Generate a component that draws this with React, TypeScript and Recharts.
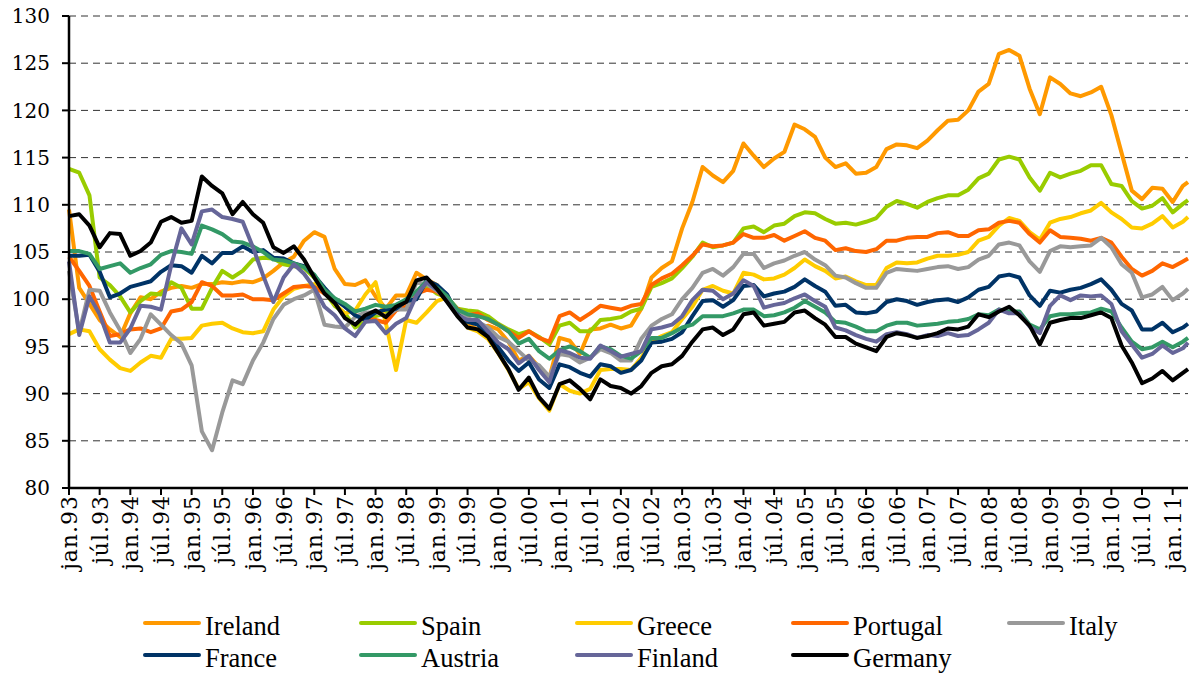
import { LineChart, Line, XAxis, YAxis, CartesianGrid } from 'recharts';

// monthly index: 0 = jan.93, read every second month, last point apr.11
const MONTHS = Array.from({ length: 110 }, (_, i) => i * 2).concat([219]);

const TICK_LABELS = [
  'jan.93', 'júl.93', 'jan.94', 'júl.94', 'jan.95', 'júl.95', 'jan.96', 'júl.96',
  'jan.97', 'júl.97', 'jan.98', 'júl.98', 'jan.99', 'júl.99', 'jan.00', 'júl.00',
  'jan.01', 'júl.01', 'jan.02', 'júl.02', 'jan.03', 'júl.03', 'jan.04', 'júl.04',
  'jan.05', 'júl.05', 'jan.06', 'júl.06', 'jan.07', 'júl.07', 'jan.08', 'júl.08',
  'jan.09', 'júl.09', 'jan.10', 'júl.10', 'jan.11',
];
const TICK_MONTHS = TICK_LABELS.map((_, i) => i * 6);
const Y_TICKS = [80, 85, 90, 95, 100, 105, 110, 115, 120, 125, 130];

const IRELAND = [
  109.5, 101.2, 99.5, 97.8, 96.8, 96.0, 98.5, 100.2, 100.0, 100.8, 101.2, 101.4, 101.2, 101.6, 101.6, 101.8, 101.7, 101.9, 101.8,
  102.2, 103.0, 103.9, 104.5, 106.2, 107.1, 106.6, 103.2, 101.6, 101.5, 102.0, 100.3, 99.0, 100.4, 100.4, 102.8, 102.1, 101.5, 100.0,
  98.5, 97.3, 96.8, 97.2, 96.8, 95.5, 93.5, 94.0, 92.8, 91.6, 95.9, 95.6, 94.2, 96.8, 96.9, 97.3, 96.9, 97.2,
  99.0, 102.3, 103.3, 104.0, 107.5, 110.3, 114.0, 113.1, 112.4, 113.6, 116.5, 115.2, 114.0, 114.9, 115.6, 118.5, 118.0, 117.2, 115.0,
  114.0, 114.4, 113.3, 113.4, 114.0, 115.9, 116.4, 116.3, 116.0, 116.8, 117.9, 118.9, 119.0, 120.0, 122.0, 122.8, 126.0, 126.4,
  125.8, 122.3, 119.6, 123.5, 122.8, 121.8, 121.5, 121.9, 122.5, 119.5, 115.5, 111.5, 110.6, 111.8, 111.7, 110.3, 112.0,
  112.4,
];

const SPAIN = [
  113.8, 113.4, 111.0, 102.3, 101.5, 100.3, 98.6, 99.8, 100.6, 100.5, 101.8, 101.2, 99.0, 99.0, 101.2, 103.0, 102.3, 103.0, 104.2,
  104.4, 104.3, 103.7, 103.5, 103.3, 102.3, 100.8, 99.3, 98.5, 97.0, 97.6, 98.2, 98.5, 98.9, 99.5, 100.5, 101.4, 100.6, 100.2,
  99.0, 98.8, 98.7, 98.2, 97.4, 96.8, 96.3, 96.6, 96.0, 95.2, 97.2, 97.5, 96.6, 96.6, 97.8, 97.9, 98.1, 98.7,
  99.0, 101.3, 101.7, 102.2, 103.3, 104.5, 106.0, 105.5, 105.7, 106.0, 107.5, 107.7, 107.1, 107.8, 108.0, 108.8, 109.2, 109.1, 108.5,
  108.0, 108.1, 107.9, 108.2, 108.6, 109.8, 110.4, 110.1, 109.7, 110.3, 110.7, 111.0, 111.0, 111.6, 112.8, 113.3, 114.8, 115.1,
  114.8, 112.9, 111.5, 113.4, 112.9, 113.3, 113.6, 114.2, 114.2, 112.2, 112.0, 110.4, 109.6, 109.9, 110.7, 109.2, 110.1,
  110.5,
];

const GREECE = [
  96.3, 96.8, 96.6, 94.7, 93.6, 92.7, 92.4, 93.3, 94.0, 93.8, 95.8, 95.8, 95.9, 97.2, 97.4, 97.5, 96.9, 96.5, 96.4,
  96.6, 98.9, 100.3, 101.1, 101.4, 101.6, 101.0, 99.5, 98.5, 98.8, 100.5, 101.8, 97.5, 92.5, 97.8, 97.5, 98.6, 99.8, 100.2,
  98.5, 97.0, 96.6, 95.8, 94.3, 92.5, 90.5, 91.2, 89.5, 88.2, 91.0, 90.3, 90.0, 90.5, 92.5, 92.6, 92.6, 92.5,
  93.8, 95.5, 96.1, 96.5, 97.9, 99.2, 101.0, 101.4, 100.9, 100.6, 102.8, 102.6, 102.1, 102.2, 102.6, 103.3, 104.2, 103.5, 103.0,
  102.2, 102.4, 101.9, 101.5, 101.5, 103.3, 103.9, 103.8, 103.9, 104.3, 104.6, 104.6, 104.7, 105.0, 106.2, 106.6, 107.8, 108.6,
  108.3, 107.1, 106.3, 108.1, 108.5, 108.7, 109.1, 109.4, 110.2, 109.2, 108.5, 107.6, 107.5, 108.0, 108.8, 107.6, 108.2,
  108.7,
];

const PORTUGAL = [
  104.5, 103.0, 101.4, 98.7, 96.1, 96.3, 96.8, 96.9, 96.5, 96.9, 98.7, 98.9, 99.7, 101.8, 101.4, 100.4, 100.4, 100.5, 100.0,
  100.0, 99.9, 100.6, 101.3, 101.4, 101.3, 100.6, 100.0, 99.3, 98.3, 98.0, 97.8, 97.5, 98.8, 99.3, 100.6, 101.0, 100.8, 100.0,
  99.0, 98.3, 98.5, 97.8, 97.3, 96.6, 95.9, 96.6, 95.9, 95.5, 98.2, 98.6, 97.8, 98.5, 99.3, 99.1, 98.9, 99.3,
  99.5, 101.5, 102.2, 102.7, 103.6, 104.6, 105.8, 105.6, 105.7, 106.0, 106.9, 106.5, 106.5, 106.8, 106.2, 106.7, 107.2, 106.5, 106.2,
  105.2, 105.4, 105.1, 105.0, 105.3, 106.2, 106.2, 106.5, 106.6, 106.6, 107.0, 107.1, 106.7, 106.7, 107.3, 107.4, 108.1, 108.3,
  108.1, 106.9, 106.0, 107.3, 106.6, 106.5, 106.4, 106.2, 106.5, 106.0, 104.5, 103.2, 102.5, 103.0, 103.8, 103.4, 104.0,
  104.3,
];

const ITALY = [
  103.0, 96.5, 101.0, 100.9, 98.6, 96.7, 94.3, 95.8, 98.4, 97.3, 96.2, 95.3, 93.0, 86.0, 84.0, 88.0, 91.4, 91.0, 93.5,
  95.4, 97.9, 99.4, 100.0, 100.4, 101.0, 97.3, 97.1, 97.0, 98.1, 98.6, 98.6, 98.2, 98.9, 98.9, 101.8, 101.6, 100.9, 100.1,
  98.8, 98.0, 97.6, 97.0, 96.0, 95.5, 94.5, 93.5, 93.0, 91.8, 94.2, 94.0, 93.3, 93.8, 94.7, 94.3, 93.5, 93.5,
  95.8, 97.2, 97.9, 98.4, 100.0, 101.2, 102.8, 103.2, 102.5, 103.4, 104.8, 104.8, 103.3, 103.8, 104.1, 104.6, 105.0, 104.2, 103.6,
  102.5, 102.3, 101.7, 101.2, 101.2, 102.8, 103.2, 103.1, 103.0, 103.2, 103.4, 103.5, 103.2, 103.4, 104.2, 104.6, 105.8, 106.0,
  105.7, 104.0, 102.9, 105.1, 105.6, 105.5, 105.6, 105.7, 106.5, 105.5, 103.7, 102.8, 100.2, 100.5, 101.3, 99.9, 100.6,
  101.1,
];

const FRANCE = [
  104.6, 104.6, 104.7, 102.9, 100.2, 100.6, 101.3, 101.6, 101.9, 102.9, 103.6, 103.5, 102.8, 104.6, 103.8, 104.9, 104.9, 105.6, 105.0,
  105.2, 104.4, 104.3, 103.8, 103.5, 102.5, 101.2, 100.0, 99.2, 98.3, 97.8, 98.6, 98.9, 99.0, 99.8, 100.0, 102.0, 101.5, 100.5,
  98.4, 97.6, 97.3, 96.2, 94.9, 93.5, 92.4, 93.3, 91.5, 90.6, 93.1, 92.8, 92.2, 91.8, 93.1, 92.9, 92.2, 92.5,
  93.5, 95.4, 95.5, 95.8, 96.5, 98.2, 99.8, 99.9, 99.2, 99.9, 101.4, 101.5, 100.3, 100.6, 100.8, 101.3, 102.1, 101.4, 100.8,
  99.3, 99.4, 98.6, 98.5, 98.7, 99.7, 100.0, 99.8, 99.4, 99.7, 99.9, 100.0, 99.7, 100.2, 101.0, 101.3, 102.4, 102.6,
  102.3, 100.4, 99.3, 100.9, 100.7, 101.0, 101.2, 101.6, 102.1, 101.0, 99.5, 98.8, 96.8, 96.8, 97.5, 96.5, 97.0,
  97.4,
];

const AUSTRIA = [
  105.1, 105.1, 104.8, 103.2, 103.5, 103.8, 102.8, 103.3, 103.7, 104.7, 105.1, 105.0, 104.8, 107.8, 107.4, 106.9, 106.1, 106.0, 105.6,
  105.0, 104.2, 104.1, 103.8, 103.4, 102.6, 101.0, 100.1, 99.5, 98.7, 99.0, 99.4, 99.2, 99.4, 100.0, 100.8, 101.9, 101.2, 100.3,
  98.9, 98.4, 98.2, 97.9, 97.3, 96.6, 95.3, 95.8, 94.5, 93.7, 94.6, 95.0, 94.5, 93.8, 95.0, 94.7, 94.0, 93.7,
  94.5, 95.9, 95.9, 96.4, 97.0, 97.3, 98.2, 98.2, 98.2, 98.5, 98.9, 98.9, 98.2, 98.3, 98.6, 99.1, 99.8, 99.2, 98.6,
  97.6, 97.5, 97.1, 96.6, 96.6, 97.2, 97.5, 97.5, 97.2, 97.3, 97.4, 97.6, 97.7, 97.9, 98.4, 98.3, 98.9, 98.7,
  98.7, 97.3, 96.8, 98.2, 98.4, 98.4, 98.5, 98.6, 99.0, 98.7, 97.0, 95.5, 94.7, 94.9, 95.5, 94.9, 95.5,
  95.9,
];

const FINLAND = [
  104.0, 96.2, 100.3, 98.4, 95.4, 95.4, 96.9, 99.3, 99.2, 98.9, 103.6, 107.5, 105.8, 109.3, 109.5, 108.7, 108.5, 108.2, 105.5,
  102.5, 99.7, 102.3, 103.7, 102.7, 101.2, 99.2, 98.3, 96.9, 96.1, 97.6, 97.7, 96.4, 97.4, 98.0, 100.4, 101.8, 101.0, 99.8,
  98.3, 97.8, 97.8, 96.6, 95.4, 94.7, 93.2, 94.0, 92.5, 91.2, 94.6, 94.3, 93.8, 93.7, 95.1, 94.5, 93.9, 94.2,
  94.5, 96.8, 97.0, 97.3, 98.2, 99.9, 101.0, 100.9, 100.0, 100.6, 102.0, 101.4, 99.1, 99.4, 99.6, 100.1, 100.5, 99.8, 99.2,
  97.0, 96.7, 96.2, 95.8, 95.5, 96.3, 96.5, 96.3, 95.9, 96.2, 96.1, 96.4, 96.1, 96.2, 96.8, 97.5, 98.9, 98.5,
  98.5, 97.1, 96.4, 99.3, 100.4, 99.9, 100.4, 100.3, 100.4, 99.5, 96.6, 95.2, 93.8, 94.2, 95.1, 94.3, 94.8,
  95.4,
];

const GERMANY = [
  108.8, 109.0, 107.8, 105.5, 107.0, 106.9, 104.6, 105.1, 106.0, 108.2, 108.7, 108.1, 108.3, 113.0, 112.0, 111.2, 109.0, 110.3, 109.0,
  108.1, 105.5, 104.9, 105.6, 104.2, 102.3, 100.6, 99.6, 98.0, 97.3, 98.3, 98.8, 98.1, 99.2, 99.7, 102.0, 102.3, 101.1, 99.7,
  98.2, 97.0, 96.8, 96.0, 94.3, 92.6, 90.4, 91.7, 89.6, 88.4, 91.0, 91.4, 90.5, 89.4, 91.5, 90.8, 90.6, 90.0,
  90.8, 92.2, 92.9, 93.1, 94.0, 95.5, 96.8, 97.0, 96.2, 96.8, 98.4, 98.6, 97.2, 97.4, 97.6, 98.6, 98.8, 98.0, 97.3,
  96.0, 96.0, 95.3, 94.9, 94.5, 96.0, 96.4, 96.2, 95.9, 96.1, 96.4, 96.9, 96.8, 97.1, 98.4, 98.1, 98.7, 99.2,
  98.3, 97.2, 95.2, 97.5, 97.8, 98.0, 98.0, 98.3, 98.6, 98.0, 95.1, 93.3, 91.1, 91.6, 92.4, 91.4, 92.2,
  92.6,
];

const SERIES = [
  { name: 'Ireland', values: IRELAND, color: '#FF9900' },
  { name: 'Spain', values: SPAIN, color: '#99CC00' },
  { name: 'Greece', values: GREECE, color: '#FFCC00' },
  { name: 'Portugal', values: PORTUGAL, color: '#FF6600' },
  { name: 'Italy', values: ITALY, color: '#999999' },
  { name: 'France', values: FRANCE, color: '#003366' },
  { name: 'Austria', values: AUSTRIA, color: '#339966' },
  { name: 'Finland', values: FINLAND, color: '#666699' },
  { name: 'Germany', values: GERMANY, color: '#000000' },
];

const data = MONTHS.map((m, i) => {
  const row: Record<string, number> = { m };
  SERIES.forEach(s => { row[s.name] = s.values[i]; });
  return row;
});

const labelFor = (m: number) => TICK_LABELS[Math.round(m / 6)] ?? '';

const XTick = ({ x, y, payload }: any) => (
  <g transform={`translate(${x},${y})`}>
    <text
      transform="rotate(-90)"
      x={0}
      y={0}
      dy="0.36em"
      textAnchor="end"
      fontFamily="DejaVu Serif"
      fontSize={22}
      letterSpacing={1}
      fill="#000"
    >
      {labelFor(payload.value)}
    </text>
  </g>
);

// positioned at the page origin, so coordinates below are page pixels
const W = 1192;
const H = 675;

export default function App() {
  return (
    <div style={{ position: 'absolute', left: 0, top: 0, width: W, height: H, fontFamily: 'DejaVu Serif' }}>
      <LineChart width={W} height={H} data={data} margin={{ top: 16, right: 4, left: 0, bottom: 87 }}>
        <CartesianGrid vertical={false} stroke="#333" strokeDasharray="7 5" />
        <XAxis
          dataKey="m"
          type="number"
          domain={[0, 219]}
          ticks={TICK_MONTHS}
          interval={0}
          height={100}
          tickSize={7}
          tickMargin={0}
          tick={<XTick />}
          axisLine={{ stroke: '#000', strokeWidth: 2.5 }}
          tickLine={{ stroke: '#000', strokeWidth: 2 }}
        />
        <YAxis
          type="number"
          domain={[80, 130]}
          ticks={Y_TICKS}
          interval={0}
          width={69}
          tickSize={7}
          tickMargin={12}
          tick={{ fill: '#000', fontSize: 20, fontFamily: 'DejaVu Serif' }}
          axisLine={{ stroke: '#000', strokeWidth: 2.5 }}
          tickLine={{ stroke: '#000', strokeWidth: 2 }}
        />
        {SERIES.map(s => (
          <Line
            key={s.name}
            dataKey={s.name}
            type="linear"
            stroke={s.color}
            strokeWidth={4}
            strokeLinejoin="round"
            dot={false}
            activeDot={false}
            isAnimationActive={false}
          />
        ))}
      </LineChart>
      {SERIES.map((s, i) => {
        const col = i < 5 ? i : i - 5;
        const cy = i < 5 ? 623 : 655;
        return (
          <div
            key={s.name}
            style={{
              position: 'absolute',
              left: 143 + col * 216,
              top: cy - 16,
              height: 32,
              display: 'flex',
              alignItems: 'center',
              whiteSpace: 'nowrap',
            }}
          >
            <div style={{ width: 58, height: 4.5, borderRadius: 2.5, background: s.color }} />
            <span
              style={{
                position: 'relative',
                top: 3,
                marginLeft: 4,
                fontFamily: 'Liberation Serif',
                fontSize: 26.5,
                lineHeight: 1,
                color: '#000',
              }}
            >
              {s.name}
            </span>
          </div>
        );
      })}
    </div>
  );
}
